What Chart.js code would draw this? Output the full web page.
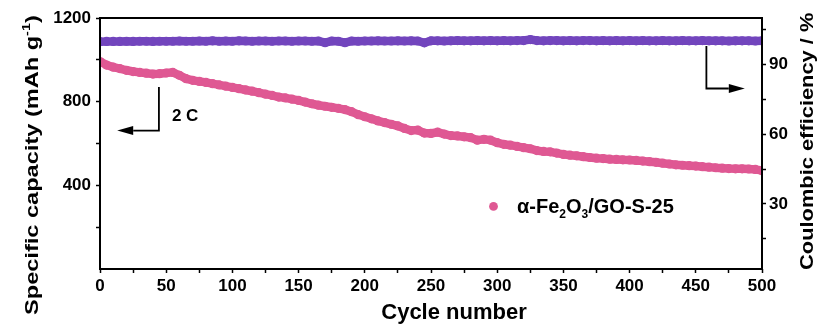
<!DOCTYPE html>
<html>
<head>
<meta charset="utf-8">
<script src="https://cdn.jsdelivr.net/npm/chart.js@4.4.1/dist/chart.umd.min.js"></script>
<style>
html, body { margin: 0; padding: 0; background: #fff; }
#wrap { width: 819px; height: 327px; position: relative; }
</style>
</head>
<body>
<div id="wrap"><canvas id="cycleChart"></canvas></div>
<script>
// cycle numbers (every 5th cycle)
const cycles = [
    0, 5, 10, 15, 20, 25, 30, 35, 40, 45,
    50, 55, 60, 65, 70, 75, 80, 85, 90, 95,
    100, 105, 110, 115, 120, 125, 130, 135, 140, 145,
    150, 155, 160, 165, 170, 175, 180, 185, 190, 195,
    200, 205, 210, 215, 220, 225, 230, 235, 240, 245,
    250, 255, 260, 265, 270, 275, 280, 285, 290, 295,
    300, 305, 310, 315, 320, 325, 330, 335, 340, 345,
    350, 355, 360, 365, 370, 375, 380, 385, 390, 395,
    400, 405, 410, 415, 420, 425, 430, 435, 440, 445,
    450, 455, 460, 465, 470, 475, 480, 485, 490, 495,
    500
];

// specific capacity, mAh g-1
const capacity = [
    992, 975, 965, 958, 950, 944, 940, 936, 932, 934,
    937, 940, 926, 910, 902, 897, 892, 886, 880, 874,
    868, 862, 856, 850, 843, 836, 830, 822, 818, 812,
    806, 798, 790, 783, 778, 773, 768, 762, 752, 738,
    728, 718, 708, 700, 692, 684, 672, 662, 664, 650,
    648, 654, 645, 638, 636, 632, 628, 616, 620, 616,
    604, 596, 592, 586, 580, 575, 566, 562, 560, 554,
    548, 544, 541, 537, 533, 530, 528, 525, 524, 522,
    521, 519, 516, 513, 510, 506, 502, 498, 496, 494,
    492, 489, 487, 484, 482, 480, 479, 479, 478, 476,
    470
];

// coulombic efficiency, %
const efficiency = [
    99.8, 99.9, 99.9, 99.9, 100.0, 99.9, 100.0, 100.0, 99.9, 100.0,
    100.0, 100.0, 100.1, 100.0, 100.0, 100.1, 100.0, 100.2, 100.0, 100.1,
    100.0, 100.2, 100.1, 100.0, 100.1, 100.1, 100.0, 100.1, 100.1, 100.0,
    100.1, 100.1, 100.0, 100.1, 99.4, 100.1, 100.0, 99.4, 100.1, 100.0,
    100.1, 100.1, 100.2, 100.1, 100.1, 100.2, 100.1, 100.2, 100.1, 99.3,
    100.2, 100.2, 100.1, 100.2, 100.3, 100.2, 100.2, 100.3, 100.2, 100.3,
    100.2, 100.3, 100.2, 100.3, 100.3, 100.7, 100.3, 100.2, 100.3, 100.3,
    100.2, 100.3, 100.2, 100.3, 100.3, 100.2, 100.3, 100.2, 100.3, 100.2,
    100.3, 100.2, 100.3, 100.2, 100.2, 100.3, 100.2, 100.2, 100.3, 100.2,
    100.2, 100.3, 100.2, 100.2, 100.2, 100.1, 100.2, 100.2, 100.2, 100.1,
    100.2
];

const xTicks = [0, 25, 50, 75, 100, 125, 150, 175, 200, 225, 250, 275, 300, 325, 350, 375, 400, 425, 450, 475, 500];
const capTicks = [200, 400, 600, 800, 1000, 1200];
const ceTicks = [15, 30, 45, 60, 75, 90, 105];

const PINK = '#df5893';
const PURPLE = '#7245bd';
const FONT = '"Liberation Sans", Arial, sans-serif';

function fontOf(size) {
    return `bold ${size}px ${FONT}`;
}

// draws runs of text with different sizes / vertical shifts (sub/superscripts)
function drawRich(ctx, parts, x, y, stretch = 1) {
    let cx = x;
    parts.forEach(([text, size, dy = 0]) => {
        ctx.font = fontOf(size);
        ctx.save();
        ctx.translate(cx, y + dy);
        ctx.scale(stretch, 1);
        ctx.fillText(text, 0, 0);
        ctx.restore();
        cx += ctx.measureText(text).width * stretch;
    });
}

function elbowArrow(ctx, xv, yTop, yBot, xTip) {
    const dir = Math.sign(xTip - xv);
    const head = 16;
    ctx.beginPath();
    ctx.moveTo(xv, yTop);
    ctx.lineTo(xv, yBot);
    ctx.lineTo(xTip - dir * head, yBot);
    ctx.stroke();
    ctx.beginPath();
    ctx.moveTo(xTip, yBot);
    ctx.lineTo(xTip - dir * head, yBot - 4.5);
    ctx.lineTo(xTip - dir * head, yBot + 4.5);
    ctx.closePath();
    ctx.fill();
}

const decor = {
    id: 'decor',
    afterDatasetsDraw(chart) {
        const { ctx, chartArea: a, scales: { x, y } } = chart;
        ctx.save();
        ctx.strokeStyle = '#000';
        ctx.fillStyle = '#000';

        // frame
        ctx.lineWidth = 2;
        ctx.strokeRect(a.left, a.top, a.right - a.left, a.bottom - a.top);

        // arrows pointing to the axes
        ctx.lineWidth = 1.8;
        elbowArrow(ctx, x.getPixelForValue(44.5), y.getPixelForValue(870), y.getPixelForValue(662), x.getPixelForValue(13));
        elbowArrow(ctx, x.getPixelForValue(458), y.getPixelForValue(1066), y.getPixelForValue(863), x.getPixelForValue(487));

        ctx.textBaseline = 'alphabetic';
        ctx.textAlign = 'left';
        drawRich(ctx, [['2 C', 17]], x.getPixelForValue(54.3), y.getPixelForValue(709));

        // legend
        ctx.fillStyle = PINK;
        ctx.beginPath();
        ctx.arc(x.getPixelForValue(297.2), y.getPixelForValue(299), 4.4, 0, Math.PI * 2);
        ctx.fill();
        ctx.fillStyle = '#000';
        drawRich(ctx, [
            ['\u03b1-Fe', 20], ['2', 12, 5], ['O', 20], ['3', 12, 5], ['/GO-S-25', 20]
        ], x.getPixelForValue(315), y.getPixelForValue(270));
        ctx.restore();
    },
    afterDraw(chart) {
        const { ctx } = chart;
        ctx.save();
        ctx.fillStyle = '#000';
        ctx.textBaseline = 'alphabetic';
        ctx.textAlign = 'left';

        // x title
        ctx.font = fontOf(22);
        const w = ctx.measureText('Cycle number').width;
        ctx.fillText('Cycle number', 454 - w / 2, 319);

        // left title, rotated
        ctx.save();
        ctx.translate(38, 315);
        ctx.rotate(-Math.PI / 2);
        drawRich(ctx, [['Specific capacity (mAh g', 18], ['-1', 11, -8], [')', 18]], 0, 0, 1.31);
        ctx.restore();

        // right title, rotated
        ctx.save();
        ctx.translate(813, 270);
        ctx.rotate(-Math.PI / 2);
        drawRich(ctx, [['Coulombic efficiency / %', 19]], 0, 0, 1.15);
        ctx.restore();

        ctx.restore();
    }
};

const axisGrid = {
    drawOnChartArea: false,
    drawTicks: true,
    tickLength: 4,
    tickWidth: 1.5,
    tickColor: '#000'
};

const tickFont = { family: FONT, size: 17, weight: 'bold' };

new Chart(document.getElementById('cycleChart'), {
    type: 'line',
    data: {
        datasets: [
            {
                label: 'Coulombic efficiency',
                data: cycles.map((c, i) => ({ x: c, y: efficiency[i] })),
                yAxisID: 'y2',
                borderColor: PURPLE,
                backgroundColor: PURPLE,
                borderWidth: 8.5,
                pointRadius: 4.6,
                pointBorderWidth: 0,
                tension: 0
            },
            {
                label: '\u03b1-Fe2O3/GO-S-25',
                data: cycles.map((c, i) => ({ x: c, y: capacity[i] })),
                yAxisID: 'y',
                borderColor: PINK,
                backgroundColor: PINK,
                borderWidth: 8.5,
                pointRadius: 4.6,
                pointBorderWidth: 0,
                tension: 0
            }
        ]
    },
    options: {
        responsive: true,
        maintainAspectRatio: false,
        animation: false,
        layout: { padding: { top: 18, left: 0, right: 0, bottom: 0 } },
        plugins: {
            legend: { display: false },
            tooltip: { enabled: false }
        },
        scales: {
            x: {
                type: 'linear',
                min: 0,
                max: 500,
                afterBuildTicks: s => { s.ticks = xTicks.map(v => ({ value: v })); },
                afterFit: s => { s.height = 58; },
                grid: axisGrid,
                border: { display: false },
                ticks: {
                    autoSkip: false,
                    maxRotation: 0,
                    padding: 3,
                    color: '#000',
                    font: tickFont,
                    callback: v => (v % 50 === 0 ? v : '')
                }
            },
            y: {
                type: 'linear',
                position: 'left',
                min: 0,
                max: 1200,
                afterBuildTicks: s => { s.ticks = capTicks.map(v => ({ value: v })); },
                afterFit: s => { s.width = 100; },
                grid: axisGrid,
                border: { display: false },
                ticks: {
                    autoSkip: false,
                    padding: 5,
                    color: '#000',
                    font: tickFont,
                    callback: v => (v % 400 === 0 ? v : '')
                }
            },
            y2: {
                type: 'linear',
                position: 'right',
                min: 2,
                max: 110,
                afterBuildTicks: s => { s.ticks = ceTicks.map(v => ({ value: v })); },
                afterFit: s => { s.width = 57; },
                grid: axisGrid,
                border: { display: false },
                ticks: {
                    autoSkip: false,
                    padding: 3,
                    color: '#000',
                    font: tickFont,
                    callback: v => (v % 30 === 0 ? v : '')
                }
            }
        }
    },
    plugins: [decor]
});
</script>
</body>
</html>
